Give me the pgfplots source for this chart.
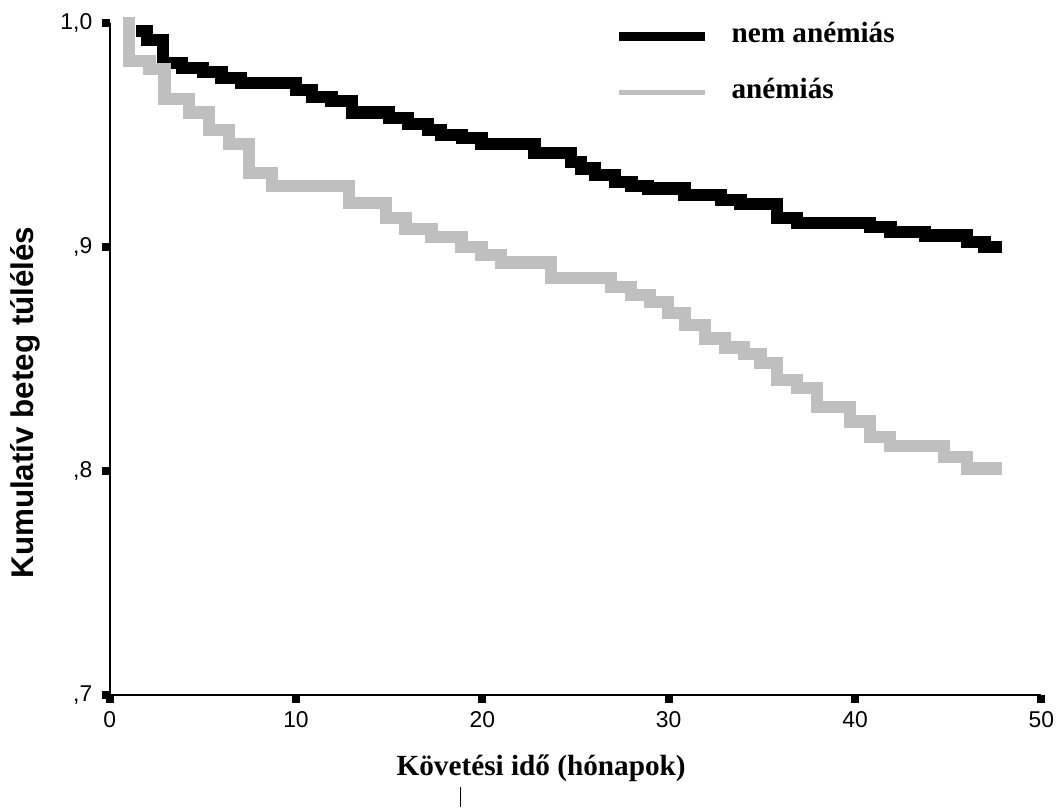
\documentclass[border=0pt]{standalone}
\usepackage{fontspec}
\setmainfont{Liberation Serif}
\newfontfamily\arial{Liberation Sans}
\usepackage{pgfplots}
\pgfplotsset{compat=1.18}
\definecolor{survgray}{HTML}{BFBFBF}

% Kaplan-Meier steps: (start of step, survival)
\pgfplotstableread{
t     s
1.44  0.9965
2.00  0.9924
2.85  0.982
3.90  0.980
5.00  0.978
6.00  0.9754
7.05  0.973
10.0  0.970
10.85 0.967
11.9  0.965
13.0  0.960
15.0  0.9576
16.0  0.955
17.1  0.952
17.8  0.950
18.9  0.9487
19.95 0.946
22.8  0.942
24.75 0.938
25.3  0.935
26.05 0.932
27.1  0.929
28.0  0.927
28.9  0.926
30.85 0.923
32.8  0.921
33.85 0.919
35.8  0.913
36.9  0.9107
40.8  0.909
41.9  0.9067
43.75 0.905
46.0  0.902
46.95 0.900
47.86 0.900
}\nemanemias

\pgfplotstableread{
t     s
0.72  1.000
1.02  0.983
2.14  0.9795
2.94  0.966
4.28  0.960
5.35  0.952
6.42  0.946
7.49  0.933
8.72  0.927
12.83 0.9196
14.81 0.913
15.88 0.908
17.27 0.9045
18.88 0.900
19.95 0.8964
21.0  0.893
23.7  0.886
26.9  0.882
27.97 0.8786
29.0  0.8755
29.95 0.8705
30.86 0.865
31.93 0.859
33.0  0.855
34.06 0.852
34.92 0.848
35.83 0.8406
36.9  0.837
37.97 0.8286
39.73 0.822
40.8  0.815
41.87 0.811
44.76 0.806
45.99 0.801
47.86 0.801
}\anemias

\begin{document}
\begin{tikzpicture}
\path (-41.25pt,-42.375pt) rectangle (357.375pt,261.375pt);
\begin{axis}[
  at={(0pt,0pt)}, anchor=south west,
  scale only axis, width=350.625pt, height=252.75pt,
  xmin=0, xmax=50, ymin=0.7, ymax=1.0,
  axis x line*=bottom, axis y line*=left,
  axis line style={line width=0.75pt},
  xtick={0,10,20,30,40,50}, xticklabels={0,10,20,30,40,50},
  ytick={0.7,0.8,0.9,1.0}, yticklabels={{,7},{,8},{,9},{1,0}},
  tick align=outside, major tick length=3pt,
  tick style={line width=3pt, black},
  ticklabel style={font=\arial\fontsize{8.6}{10}\selectfont},
  clip=false,
  xlabel={\bfseries Követési idő (hónapok)},
  xlabel style={at={(axis description cs:0.4631,-0.1202)}, anchor=base, font=\fontsize{11}{13}\selectfont},
  ylabel={\arial\bfseries Kumulatív beteg túlélés},
  ylabel style={at={(axis description cs:-0.0909,0.4347)}, anchor=center, font=\fontsize{11.8}{13}\selectfont},
  legend image code/.code={\draw[#1] (0pt,2.25pt) -- (32.25pt,2.25pt);},
  legend style={draw=none, fill=none, at={(rel axis cs:0.5422,1.002)}, anchor=north west,
    inner sep=0pt, outer sep=0pt, row sep=10.9pt,
    font=\bfseries\fontsize{11}{13}\selectfont,
    nodes={inner sep=0pt, text height=8pt, text depth=2pt, anchor=base west},
    /tikz/every odd column/.style={column sep=8.25pt}},
  legend cell align=left,
]
\addplot[const plot, black, line width=4.6pt, legend image post style={line width=3.4pt}] table[x=t,y=s] {\nemanemias};
\addlegendentry{nem anémiás}
\addplot[const plot, survgray, line width=4.6pt, legend image post style={line width=1.9pt}] table[x=t,y=s] {\anemias};
\addlegendentry{anémiás}
\end{axis}
\draw[line width=0.4pt] (132pt,-34.9pt) -- (132pt,-42.375pt);
\end{tikzpicture}
\end{document}
